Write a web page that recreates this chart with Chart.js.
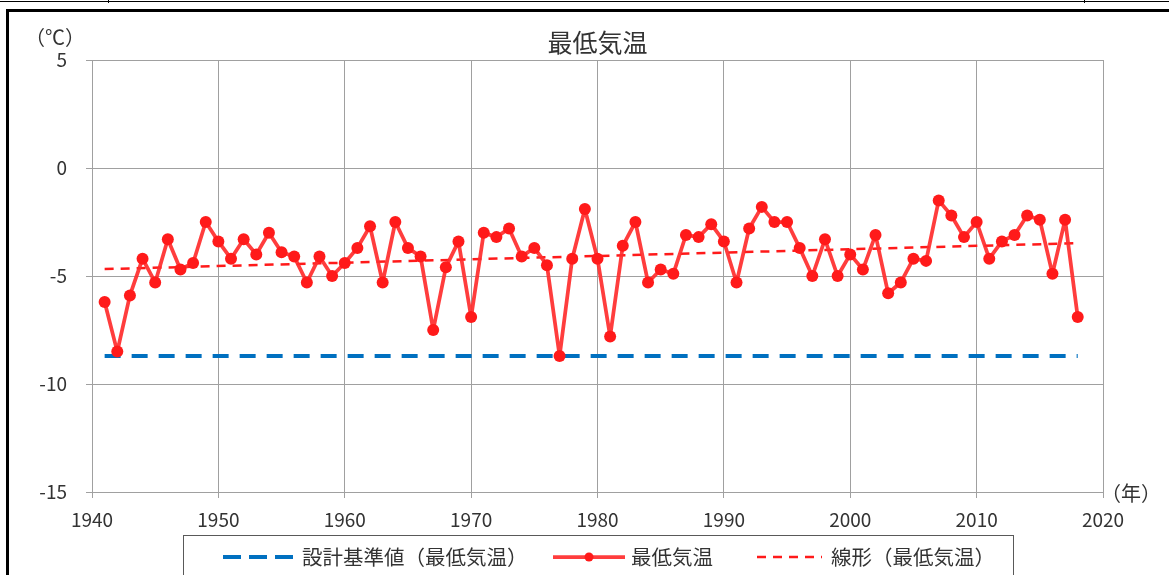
<!DOCTYPE html>
<html lang="ja">
<head>
<meta charset="utf-8">
<title>最低気温</title>
<script src="https://cdn.jsdelivr.net/npm/chart.js@4.4.0/dist/chart.umd.min.js"></script>
<style>
	html, body { margin: 0; padding: 0; background: #fff; }
	#wrap { position: relative; width: 1169px; height: 575px; overflow: hidden; }
	/* row of the table above the chart */
	#topline { position: absolute; left: 0; top: 1px; width: 1169px; height: 1px; background: #000; }
	.vtick { position: absolute; top: 0; width: 1px; height: 3px; background: #000; }
	/* thick frame round the chart */
	#frame { position: absolute; left: 6px; top: 9px; width: 1200px; height: 600px; border-left: 3px solid #000; border-top: 3px solid #000; }
	#chart { position: absolute; left: 0; top: 0; }
</style>
</head>
<body>
<div id="wrap">
	<div id="topline"></div>
	<div class="vtick" style="left:108px"></div>
	<div class="vtick" style="left:1084px"></div>
	<div id="frame"></div>
	<canvas id="chart" width="1169" height="575"></canvas>
</div>
<script>
// Annual minimum temperature (°C)
const years = [
	1941, 1942, 1943, 1944, 1945, 1946, 1947, 1948, 1949, 1950,
	1951, 1952, 1953, 1954, 1955, 1956, 1957, 1958, 1959, 1960,
	1961, 1962, 1963, 1964, 1965, 1966, 1967, 1968, 1969, 1970,
	1971, 1972, 1973, 1974, 1975, 1976, 1977, 1978, 1979, 1980,
	1981, 1982, 1983, 1984, 1985, 1986, 1987, 1988, 1989, 1990,
	1991, 1992, 1993, 1994, 1995, 1996, 1997, 1998, 1999, 2000,
	2001, 2002, 2003, 2004, 2005, 2006, 2007, 2008, 2009, 2010,
	2011, 2012, 2013, 2014, 2015, 2016, 2017, 2018,
];
const minTemps = [
	-6.2, -8.5, -5.9, -4.2, -5.3, -3.3, -4.7, -4.4, -2.5, -3.4,
	-4.2, -3.3, -4.0, -3.0, -3.9, -4.1, -5.3, -4.1, -5.0, -4.4,
	-3.7, -2.7, -5.3, -2.5, -3.7, -4.1, -7.5, -4.6, -3.4, -6.9,
	-3.0, -3.2, -2.8, -4.1, -3.7, -4.5, -8.7, -4.2, -1.9, -4.2,
	-7.8, -3.6, -2.5, -5.3, -4.7, -4.9, -3.1, -3.2, -2.6, -3.4,
	-5.3, -2.8, -1.8, -2.5, -2.5, -3.7, -5.0, -3.3, -5.0, -4.0,
	-4.7, -3.1, -5.8, -5.3, -4.2, -4.3, -1.5, -2.2, -3.2, -2.5,
	-4.2, -3.4, -3.1, -2.2, -2.4, -4.9, -2.4, -6.9,
];

// design reference value
const designYears = [1941, 2018];
const designTemps = [-8.7, -8.7];

// linear trendline, end points
const trendYears = [1941, 2018];
const trendTemps = [-4.68, -3.48];

// axis tick labels
const xTicks = [1940, 1950, 1960, 1970, 1980, 1990, 2000, 2010, 2020];
const yTicks = [5, 0, -5, -10, -15];

const FONT = '"Noto Sans CJK JP", "Noto Sans", sans-serif';
const TEXT_COLOR = '#333333';
const GRID_COLOR = '#a0a0a0';

function toPoints(xs, ys) {
	return xs.map((x, i) => ({ x, y: ys[i] }));
}

// Titles, unit labels and the framed legend
const annotationPlugin = {
	id: 'annotations',
	afterDraw(chart) {
		const ctx = chart.ctx;
		const area = chart.chartArea;
		ctx.save();
		ctx.fillStyle = TEXT_COLOR;
		ctx.textBaseline = 'middle';

		ctx.font = '25px ' + FONT;
		ctx.textAlign = 'center';
		ctx.fillText('最低気温', (area.left + area.right) / 2, 42);

		ctx.font = '20px ' + FONT;
		ctx.fillText('（℃）', 55, 37);
		ctx.fillText('（年）', 1131, 493);

		// legend frame
		ctx.strokeStyle = '#595959';
		ctx.lineWidth = 1;
		ctx.strokeRect(183.5, 535.5, 830, 60);

		const ly = 557;
		const items = [
			{ ds: chart.data.datasets[0], x0: 223, x1: 293, tx: 302 },
			{ ds: chart.data.datasets[1], x0: 553, x1: 625, tx: 631 },
			{ ds: chart.data.datasets[2], x0: 757, x1: 822, tx: 831 },
		];
		ctx.font = '20.5px ' + FONT;
		ctx.textAlign = 'left';
		items.forEach((it) => {
			ctx.save();
			ctx.strokeStyle = it.ds.borderColor;
			ctx.lineWidth = it.ds.borderWidth;
			ctx.setLineDash(it.ds.legendDash || []);
			ctx.beginPath();
			ctx.moveTo(it.x0, ly);
			ctx.lineTo(it.x1, ly);
			ctx.stroke();
			if (it.ds.pointRadius > 0) {
				ctx.fillStyle = it.ds.pointBackgroundColor;
				ctx.beginPath();
				ctx.arc((it.x0 + it.x1) / 2, ly, it.ds.pointRadius - 1.5, 0, Math.PI * 2);
				ctx.fill();
			}
			ctx.restore();
			ctx.fillText(it.ds.label, it.tx, ly);
		});
		ctx.restore();
	},
};

const ctx = document.getElementById('chart').getContext('2d');

new Chart(ctx, {
	type: 'scatter',
	data: {
		datasets: [
			{
				label: '設計基準値（最低気温）',
				data: toPoints(designYears, designTemps),
				showLine: true,
				borderColor: '#0070c0',
				borderWidth: 4,
				borderDash: [16, 11],
				legendDash: [18, 8],
				pointRadius: 0,
				order: 3,
			},
			{
				label: '最低気温',
				data: toPoints(years, minTemps),
				showLine: true,
				borderColor: 'rgba(255, 45, 45, 0.92)',
				borderWidth: 3.75,
				borderJoinStyle: 'round',
				borderCapStyle: 'round',
				pointRadius: 6,
				pointBackgroundColor: '#ff1a1a',
				pointBorderWidth: 0,
				pointHoverRadius: 6,
				order: 1,
			},
			{
				label: '線形（最低気温）',
				data: toPoints(trendYears, trendTemps),
				showLine: true,
				borderColor: '#ff1a1a',
				borderWidth: 2.5,
				borderDash: [9, 7],
				legendDash: [9, 7],
				pointRadius: 0,
				order: 2,
			},
		],
	},
	options: {
		responsive: false,
		animation: false,
		events: [],
		layout: {
			padding: { left: 10, top: 60, right: 66, bottom: 43 },
		},
		plugins: {
			legend: { display: false },
			title: { display: false },
			tooltip: { enabled: false },
		},
		scales: {
			x: {
				type: 'linear',
				min: 1940,
				max: 2020,
				afterBuildTicks(scale) {
					scale.ticks = xTicks.map((v) => ({ value: v }));
				},
				afterFit(scale) {
					scale.height = 40;
				},
				ticks: {
					color: TEXT_COLOR,
					font: { family: FONT, size: 19 },
					padding: 10,
					maxRotation: 0,
					callback: (v) => String(v),
				},
				grid: {
					color: GRID_COLOR,
					lineWidth: 1,
					tickLength: 6,
				},
				border: { color: GRID_COLOR },
			},
			y: {
				type: 'linear',
				min: -15,
				max: 5,
				afterBuildTicks(scale) {
					scale.ticks = yTicks.map((v) => ({ value: v }));
				},
				afterFit(scale) {
					scale.width = 82;
				},
				ticks: {
					color: TEXT_COLOR,
					font: { family: FONT, size: 19 },
					padding: 19,
					callback: (v) => String(v),
				},
				grid: {
					color: GRID_COLOR,
					lineWidth: 1,
					tickLength: 6,
				},
				border: { color: GRID_COLOR },
			},
		},
	},
	plugins: [annotationPlugin],
});
</script>
</body>
</html>
